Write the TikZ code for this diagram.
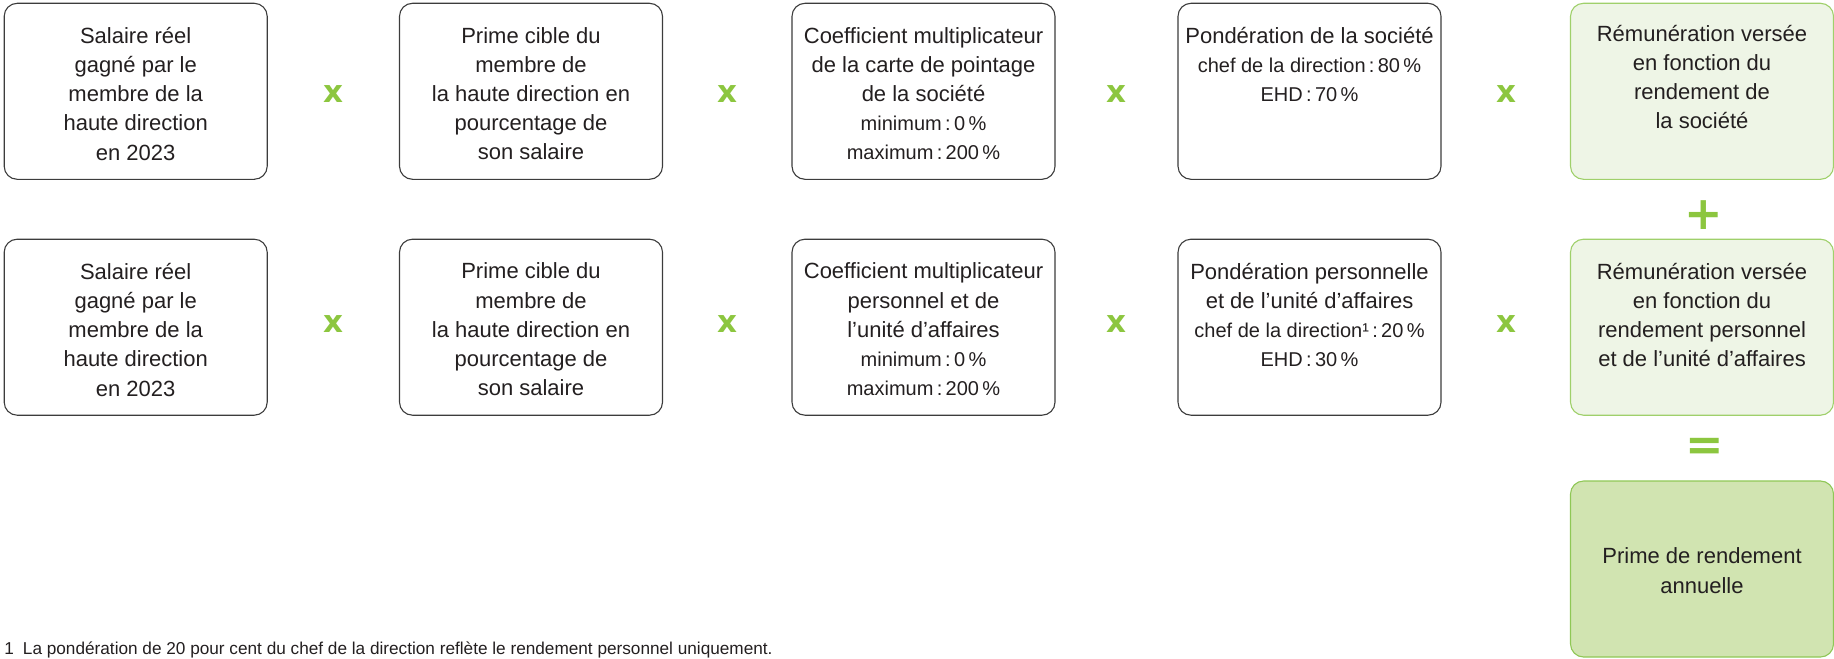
\documentclass[tikz,border=0pt]{standalone}
\usepackage{fontspec}
\setmainfont{Liberation Sans}
\newfontfamily\opfont{DejaVu Sans}
\usepackage{xcolor}
\usepackage{tikz}
\usetikzlibrary{positioning}
\definecolor{inkgray}{HTML}{231F20}
\definecolor{rimgray}{HTML}{3C3C3C}
\definecolor{opgreen}{HTML}{8CC63F}
\definecolor{lightfill}{HTML}{EEF5E6}
\definecolor{lightrim}{HTML}{9FD06B}
\definecolor{totalfill}{HTML}{D1E4B1}
\definecolor{totalrim}{HTML}{8FC756}
\newcommand{\smtxt}{\fontsize{10}{14.6}\selectfont}

\begin{document}
\begin{tikzpicture}[x=0.5pt,y=-0.5pt,
  box/.style={draw=rimgray,line width=0.55pt,rounded corners=6.5pt,minimum width=131.5pt,minimum height=88pt,inner sep=0pt},
  paybox/.style={box,draw=lightrim,fill=lightfill},
  totalbox/.style={box,draw=totalrim,fill=totalfill},
  txt/.style={align=center,inner sep=0pt,text=inkgray,font=\fontsize{11}{14.6}\selectfont},
  sign/.style={inner sep=0pt,text=opgreen,font=\opfont\bfseries\fontsize{15.5}{15.5}\selectfont},
  opsign/.style={inner sep=0pt,text=opgreen,font=\opfont\bfseries\fontsize{23}{23}\selectfont}]
  \useasboundingbox (0,0) rectangle (1834,658);
  \node[box] (b1) at (135.7,91.3) {};
  \node[box] (b2) at (531,91.3) {};
  \node[box] (b3) at (923.5,91.3) {};
  \node[box] (b4) at (1309.5,91.3) {};
  \node[paybox] (b5) at (1702,91.3) {};
  \node[box] (b6) at (135.7,327.2) {};
  \node[box] (b7) at (531,327.2) {};
  \node[box] (b8) at (923.5,327.2) {};
  \node[box] (b9) at (1309.5,327.2) {};
  \node[paybox] (b10) at (1702,327.2) {};
  \node[totalbox] (b11) at (1702,569) {};
  \node[txt,below=12pt of b1.north] (t1) {Salaire réel\\gagné par le\\membre de la\\haute direction\\en 2023};
  \node[txt,below=12pt of b2.north] (t2) {Prime cible du\\membre de\\la haute direction en\\pourcentage de\\son salaire};
  \node[txt,below=12pt of b3.north] (t3) {Coefficient multiplicateur\\de la carte de pointage\\de la société\\\smtxt minimum\,:\,0\,\%\\\smtxt maximum\,:\,200\,\%};
  \node[txt,below=12pt of b4.north] (t4) {Pondération de la société\\\smtxt chef de la direction\,:\,80\,\%\\\smtxt EHD\,:\,70\,\%};
  \node[txt,below=11pt of b5.north] (t5) {Rémunération versée\\en fonction du\\rendement de\\la société};
  \node[txt,below=12pt of b6.north] (t6) {Salaire réel\\gagné par le\\membre de la\\haute direction\\en 2023};
  \node[txt,below=12pt of b7.north] (t7) {Prime cible du\\membre de\\la haute direction en\\pourcentage de\\son salaire};
  \node[txt,below=12pt of b8.north] (t8) {Coefficient multiplicateur\\personnel et de\\l’unité d’affaires\\\smtxt minimum\,:\,0\,\%\\\smtxt maximum\,:\,200\,\%};
  \node[txt,below=12pt of b9.north] (t9) {Pondération personnelle\\et de l’unité d’affaires\\\smtxt chef de la direction¹\,:\,20\,\%\\\smtxt EHD\,:\,30\,\%};
  \node[txt,below=12pt of b10.north] (t10) {Rémunération versée\\en fonction du\\rendement personnel\\et de l’unité d’affaires};
  \node[txt,font=\fontsize{11}{15}\selectfont] (t11) at (1702,571) {Prime de rendement\\annuelle};
  \node[sign] (x1) at (333.5,94) {x};
  \node[sign] (x2) at (727.5,94) {x};
  \node[sign] (x3) at (1116.5,94) {x};
  \node[sign] (x4) at (1506,94) {x};
  \node[sign] (x5) at (333.5,324) {x};
  \node[sign] (x6) at (727.5,324) {x};
  \node[sign] (x7) at (1116.5,324) {x};
  \node[sign] (x8) at (1506,324) {x};
  \node[opsign] (plus) at (1704,214.7) {+};
  \node[opsign] (eq) at (1705,449.5) {=};
  \node[anchor=base west,inner sep=0pt,text=inkgray,font=\fontsize{8.6}{10}\selectfont] (fn) at (4,654) {1\hspace{4.5pt}La pondération de 20 pour cent du chef de la direction reflète le rendement personnel uniquement.};
\end{tikzpicture}
\end{document}
